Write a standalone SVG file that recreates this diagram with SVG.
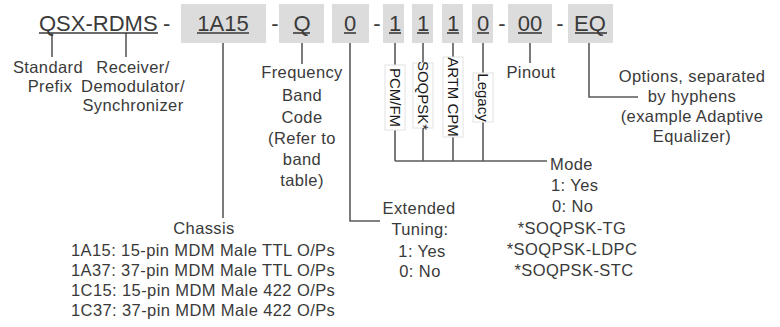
<svg xmlns="http://www.w3.org/2000/svg" width="780" height="327" viewBox="0 0 780 327">
<style>
text{font-family:"Liberation Sans",Arial,sans-serif;fill:#3a3a3a}
.big{font-size:22px}
.lbl{font-size:16.5px;letter-spacing:0.4px;text-anchor:middle}
.lft{font-size:16.5px;letter-spacing:0.4px}
.rot{font-size:15px;text-anchor:middle;fill:#1a1a1a}
.box{fill:#dcdcdc}
.tag{fill:#ffffff;stroke:#e2e2e2;stroke-width:1}
.ln{fill:none;stroke:#5a5a5a;stroke-width:1.6}
.ul{stroke:#3a3a3a;stroke-width:1.6}
</style>
<rect width="780" height="327" fill="#ffffff"/>
<g id="connectors">
<path class="ln" d="M52 33V57"/>
<path class="ln" d="M126 33V57"/>
<path class="ln" d="M223 33V218"/>
<path class="ln" d="M302 33V64"/>
<path class="ln" d="M350 33V221H380"/>
<path class="ln" d="M395 33V161"/>
<path class="ln" d="M423 33V161"/>
<path class="ln" d="M453 33V161"/>
<path class="ln" d="M483 33V161"/>
<path class="ln" d="M395 161H547"/>
<path class="ln" d="M530 33V63"/>
<path class="ln" d="M589 33V97H638"/>
</g>
<g id="prefix">
<text class="big" x="39" y="31">QSX-RDMS</text>
<line class="ul" x1="39" y1="33" x2="158" y2="33"/>
<text class="big" x="163" y="31">-</text>
</g>
<g id="chassis-code">
<rect class="box" x="181" y="4" width="85" height="39"/>
<text class="big" x="223" y="31" text-anchor="middle">1A15</text>
<line class="ul" x1="197" y1="33" x2="249" y2="33"/>
</g>
<text class="big" x="275" y="31" text-anchor="middle">-</text>
<g id="band-code">
<rect class="box" x="279" y="4" width="45" height="39"/>
<text class="big" x="302" y="31" text-anchor="middle">Q</text>
<line class="ul" x1="293" y1="33" x2="310" y2="33"/>
</g>
<g id="ext-code">
<rect class="box" x="332" y="4" width="37" height="39"/>
<text class="big" x="350" y="31" text-anchor="middle">0</text>
<line class="ul" x1="344" y1="33" x2="356" y2="33"/>
</g>
<text class="big" x="377" y="31" text-anchor="middle">-</text>
<g id="pcm-code">
<rect class="box" x="383" y="4" width="21" height="39"/>
<text class="big" x="395" y="31" text-anchor="middle">1</text>
<line class="ul" x1="389" y1="33" x2="401" y2="33"/>
</g>
<g id="soqpsk-code">
<rect class="box" x="412" y="4" width="21" height="39"/>
<text class="big" x="423" y="31" text-anchor="middle">1</text>
<line class="ul" x1="417" y1="33" x2="429" y2="33"/>
</g>
<g id="artm-code">
<rect class="box" x="442" y="4" width="21" height="39"/>
<text class="big" x="453" y="31" text-anchor="middle">1</text>
<line class="ul" x1="447" y1="33" x2="459" y2="33"/>
</g>
<g id="legacy-code">
<rect class="box" x="472" y="4" width="21" height="39"/>
<text class="big" x="483" y="31" text-anchor="middle">0</text>
<line class="ul" x1="477" y1="33" x2="489" y2="33"/>
</g>
<text class="big" x="502" y="31" text-anchor="middle">-</text>
<g id="pinout-code">
<rect class="box" x="508" y="4" width="44" height="39"/>
<text class="big" x="530" y="31" text-anchor="middle">00</text>
<line class="ul" x1="518" y1="33" x2="542" y2="33"/>
</g>
<text class="big" x="560" y="31" text-anchor="middle">-</text>
<g id="options-code">
<rect class="box" x="568" y="4" width="45" height="39"/>
<text class="big" x="590" y="31" text-anchor="middle">EQ</text>
<line class="ul" x1="575" y1="33" x2="607" y2="33"/>
</g>
<g id="standard-prefix">
<text class="lbl" x="48" y="73">Standard</text>
<text class="lbl" x="50" y="92">Prefix</text>
</g>
<g id="receiver">
<text class="lbl" x="133" y="73">Receiver/</text>
<text class="lbl" x="133" y="92">Demodulator/</text>
<text class="lbl" x="133" y="111">Synchronizer</text>
</g>
<g id="frequency-band">
<text class="lbl" x="302" y="78">Frequency</text>
<text class="lbl" x="302" y="101">Band</text>
<text class="lbl" x="302" y="123">Code</text>
<text class="lbl" x="302" y="144">(Refer to</text>
<text class="lbl" x="302" y="165">band</text>
<text class="lbl" x="302" y="186">table)</text>
</g>
<g id="chassis">
<text class="lbl" x="204" y="234">Chassis</text>
<text class="lft" x="71" y="256">1A15: 15-pin MDM Male TTL O/Ps</text>
<text class="lft" x="71" y="276">1A37: 37-pin MDM Male TTL O/Ps</text>
<text class="lft" x="71" y="296">1C15: 15-pin MDM Male 422 O/Ps</text>
<text class="lft" x="71" y="316">1C37: 37-pin MDM Male 422 O/Ps</text>
</g>
<g id="extended-tuning">
<text class="lbl" x="419" y="214">Extended</text>
<text class="lbl" x="420" y="235">Tuning:</text>
<text class="lbl" x="422" y="257">1: Yes</text>
<text class="lbl" x="420" y="277">0: No</text>
</g>
<g id="pcm-fm">
<rect class="tag" x="385" y="65" width="20" height="65"/>
<text class="rot" transform="translate(395,97.5) rotate(90)" x="0" y="5">PCM/FM</text>
</g>
<g id="soqpsk">
<rect class="tag" x="413" y="63" width="20" height="65"/>
<text class="rot" transform="translate(423,95.5) rotate(90)" x="0" y="5">SOQPSK*</text>
</g>
<g id="artm-cpm">
<rect class="tag" x="443" y="57" width="20" height="80"/>
<text class="rot" transform="translate(453,97) rotate(90)" x="0" y="5">ARTM CPM</text>
</g>
<g id="legacy">
<rect class="tag" x="473" y="73" width="20" height="49"/>
<text class="rot" transform="translate(483,97.5) rotate(90)" x="0" y="5">Legacy</text>
</g>
<g id="mode">
<text class="lft" x="550" y="170">Mode</text>
<text class="lft" x="551" y="191">1: Yes</text>
<text class="lft" x="552" y="212">0: No</text>
<text class="lbl" x="572" y="234">*SOQPSK-TG</text>
<text class="lbl" x="572" y="255">*SOQPSK-LDPC</text>
<text class="lbl" x="574" y="276">*SOQPSK-STC</text>
</g>
<g id="pinout">
<text class="lbl" x="531" y="78">Pinout</text>
</g>
<g id="options">
<text class="lbl" x="692" y="82">Options, separated</text>
<text class="lbl" x="692" y="102">by hyphens</text>
<text class="lbl" x="692" y="122">(example Adaptive</text>
<text class="lbl" x="692" y="142">Equalizer)</text>
</g>
</svg>
